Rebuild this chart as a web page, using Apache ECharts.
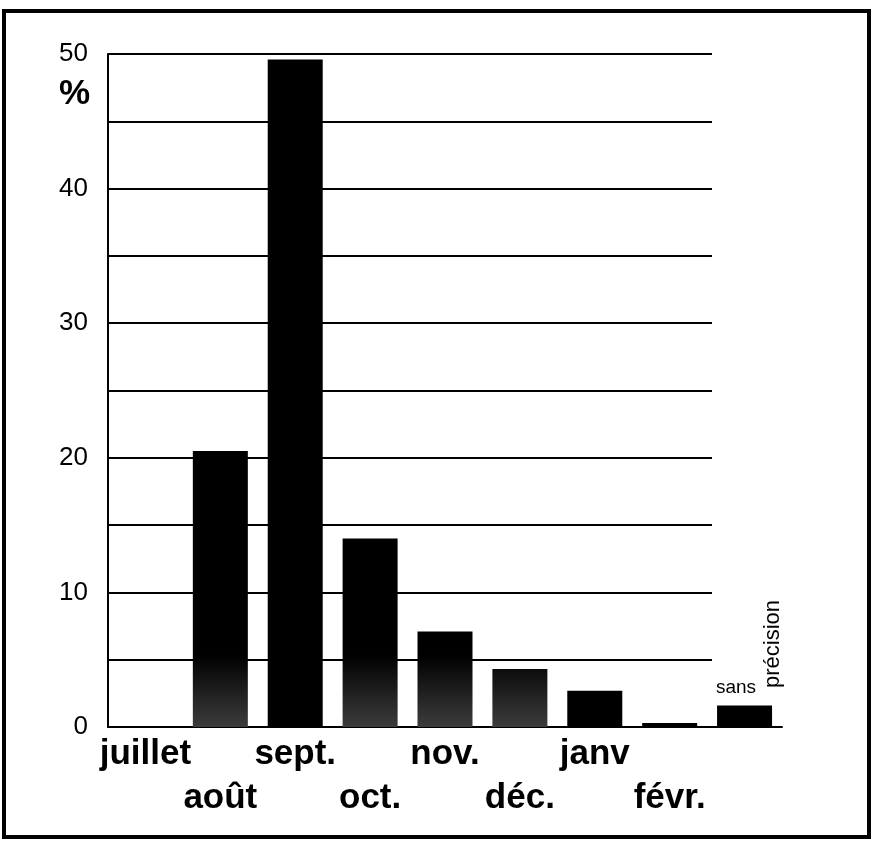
<!DOCTYPE html>
<html>
<head>
<meta charset="utf-8">
<script src="https://cdn.jsdelivr.net/npm/echarts@6/dist/echarts.min.js"></script>
<style>
  html, body { margin: 0; padding: 0; background: #fff; }
  #chart { width: 872px; height: 841px; }
</style>
</head>
<body>
<div id="chart"></div>
<script>
// mois de la date de rentrée (en %)
const months = ['juillet', 'août', 'sept.', 'oct.', 'nov.', 'déc.', 'janv', 'févr.', 'sans précision']
const shares = [0, 20.5, 49.6, 14.0, 7.1, 4.3, 2.7, 0.3, 1.6]
const yTicks = [0, 10, 20, 30, 40, 50]
const noDateWords = ['sans', 'précision']

const chart = echarts.init(document.getElementById('chart'))

// bas des barres un peu grisé comme sur le papier
const shaded = [1, 3, 4, 5]
const fade = {
  type: 'linear', x: 0, y: 655, x2: 0, y2: 727, global: true,
  colorStops: [{ offset: 0, color: '#000' }, { offset: 1, color: '#3c3c3c' }]
}

const option = {
  animation: false,
  backgroundColor: '#fff',
  grid: [
    { left: 108, top: 54, width: 674, bottom: 114 },
    { left: 108, top: 54, width: 604, bottom: 114 } // lignes de fond, plus courtes
  ],
  xAxis: [
    {
      type: 'category',
      data: months,
      gridIndex: 0,
      axisLine: { lineStyle: { color: '#000', width: 2 } },
      axisTick: { show: false },
      axisLabel: {
        interval: 0,
        margin: 10,
        formatter: (v, i) => {
          if (i === months.length - 1) return ''
          return i % 2 ? '{lo|' + v + '}' : '{hi|' + v + '}'
        },
        rich: {
          hi: { fontFamily: 'Liberation Sans', fontWeight: 'bold', fontSize: 35, color: '#000' },
          lo: { fontFamily: 'Liberation Sans', fontWeight: 'bold', fontSize: 35, color: '#000', padding: [44, 0, 0, 0] }
        }
      }
    },
    { type: 'category', gridIndex: 1, data: months, show: false }
  ],
  yAxis: [
    {
      type: 'value',
      gridIndex: 0,
      min: 0,
      max: 50,
      interval: 10,
      axisLine: { show: true, lineStyle: { color: '#000', width: 2 } },
      axisTick: { show: false },
      splitLine: { show: false },
      axisLabel: {
        margin: 20,
        fontFamily: 'Liberation Sans',
        fontSize: 26,
        color: '#000',
        formatter: v => (yTicks.includes(v) ? String(v) : '')
      }
    },
    {
      type: 'value',
      gridIndex: 1,
      min: 0,
      max: 50,
      interval: 5,
      axisLine: { show: false },
      axisTick: { show: false },
      axisLabel: { show: false },
      splitLine: { show: true, lineStyle: { color: '#000', width: 2 } }
    }
  ],
  series: [
    {
      type: 'bar',
      xAxisIndex: 0,
      yAxisIndex: 0,
      barWidth: 55,
      data: shares.map((v, i) => ({
        value: v,
        itemStyle: { color: shaded.includes(i) ? fade : '#000' }
      }))
    }
  ],
  graphic: [
    {
      type: 'rect',
      shape: { x: 4, y: 11, width: 865, height: 826 },
      style: { fill: null, stroke: '#000', lineWidth: 4 }
    },
    {
      type: 'text',
      x: 90,
      y: 94,
      style: { text: '%', fontFamily: 'Liberation Sans', fontWeight: 'bold', fontSize: 35, fill: '#000', align: 'right', verticalAlign: 'middle' }
    },
    {
      type: 'text',
      x: 736,
      y: 688,
      style: { text: noDateWords[0], fontFamily: 'Liberation Sans', fontSize: 19, fill: '#000', align: 'center', verticalAlign: 'middle' }
    },
    {
      type: 'text',
      x: 773,
      y: 644,
      rotation: Math.PI / 2,
      style: { text: noDateWords[1], fontFamily: 'Liberation Sans', fontSize: 22, fill: '#000', align: 'center', verticalAlign: 'middle' }
    }
  ]
}

chart.setOption(option)
</script>
</body>
</html>
